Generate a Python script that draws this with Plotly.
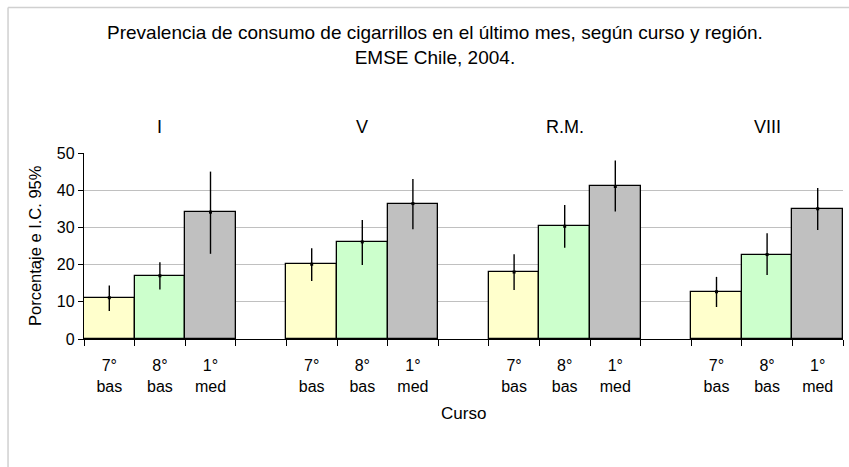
import plotly.graph_objects as go

# regions and courses
regiones = ["I", "V", "R.M.", "VIII"]
cursos = ["7°<br>bas", "8°<br>bas", "1°<br>med"]
colores = ["#FFFFCC", "#CCFFCC", "#C0C0C0"]

# prevalence (%) per course, one value per region
prev_7b = [11.1, 20.1, 18.0, 12.7]
prev_8b = [17.0, 26.1, 30.3, 22.7]
prev_1m = [34.1, 36.4, 41.0, 35.0]

# 95% CI limits
sup_7b = [14.4, 24.4, 22.8, 16.7]
inf_7b = [7.5, 15.6, 13.2, 8.6]
sup_8b = [20.6, 32.0, 36.0, 28.4]
inf_8b = [13.3, 19.9, 24.5, 17.2]
sup_1m = [45.0, 43.0, 48.0, 40.6]
inf_1m = [22.9, 29.5, 34.3, 29.3]

valores = [prev_7b, prev_8b, prev_1m]
superiores = [sup_7b, sup_8b, sup_1m]
inferiores = [inf_7b, inf_8b, inf_1m]

FONT = "Liberation Sans, Arial, sans-serif"

fig = go.Figure()

tickvals = []
ticktext = []
for c in range(3):
    xs = [g * 4 + c for g in range(len(regiones))]
    tickvals += xs
    ticktext += [cursos[c]] * len(regiones)
    fig.add_trace(go.Bar(
        x=xs,
        y=valores[c],
        width=1,
        marker=dict(color=colores[c], line=dict(color="#000000", width=1.3)),
        error_y=dict(
            type="data",
            array=[s - v for s, v in zip(superiores[c], valores[c])],
            arrayminus=[v - i for v, i in zip(valores[c], inferiores[c])],
            width=0,
            thickness=1.4,
            color="#000000",
        ),
        showlegend=False,
    ))
    # small point marker at the estimate
    fig.add_trace(go.Scatter(
        x=xs,
        y=valores[c],
        mode="markers",
        marker=dict(symbol="square", size=3, color="#000000"),
        showlegend=False,
        hoverinfo="skip",
    ))

# region labels above each group
for g, reg in enumerate(regiones):
    fig.add_annotation(x=g * 4 + 1, y=1.14, xref="x", yref="paper",
                       xanchor="center", yanchor="middle",
                       text=reg, showarrow=False,
                       font=dict(size=18, color="#000000", family=FONT))

# title
fig.add_annotation(
    x=0.4625, y=1.58, xref="paper", yref="paper",
    xanchor="center", yanchor="middle",
    text="Prevalencia de consumo de cigarrillos en el último mes, según curso y región.<br>EMSE Chile, 2004.",
    showarrow=False, align="center",
    font=dict(size=19, color="#000000", family=FONT),
)

# axis titles
fig.add_annotation(x=-0.0646, y=0.505, xref="paper", yref="paper",
                   xanchor="center", yanchor="middle",
                   text="Porcentaje e I.C. 95%", textangle=-90, showarrow=False,
                   font=dict(size=16.5, color="#000000", family=FONT))
fig.add_annotation(x=0.5, y=-0.398, xref="paper", yref="paper",
                   xanchor="center", yanchor="middle",
                   text="Curso", showarrow=False,
                   font=dict(size=17, color="#000000", family=FONT))

# chart frame (left and top edges visible)
fig.add_shape(type="line", xref="paper", yref="paper",
              x0=-0.1001, x1=-0.1001, y0=1.782, y1=-0.8,
              line=dict(color="#D0D0D0", width=1.5))
fig.add_shape(type="line", xref="paper", yref="paper",
              x0=-0.1001, x1=1.05, y0=1.782, y1=1.782,
              line=dict(color="#D0D0D0", width=1.5))

fig.update_layout(
    width=849,
    height=467,
    margin=dict(l=84, r=6, t=153, b=128),
    paper_bgcolor="#FFFFFF",
    plot_bgcolor="#FFFFFF",
    bargap=0,
    barmode="overlay",
    font=dict(family=FONT, color="#000000"),
    xaxis=dict(
        range=[-0.5, 14.5],
        tickvals=tickvals,
        ticktext=ticktext,
        ticks="outside",
        ticklen=12,
        tickcolor="rgba(0,0,0,0)",
        tickfont=dict(size=16, color="#000000"),
        showgrid=False,
        zeroline=False,
        showline=True,
        linecolor="#000000",
        linewidth=1.3,
        minor=dict(ticks="outside", tick0=-0.5, dtick=1, ticklen=6,
                   tickcolor="#000000", tickwidth=1.2, showgrid=False),
    ),
    yaxis=dict(
        range=[0, 50],
        dtick=10,
        ticks="outside",
        ticklen=5,
        tickcolor="#000000",
        tickwidth=1.2,
        tickfont=dict(size=16, color="#000000"),
        showgrid=True,
        gridcolor="#C0C0C0",
        gridwidth=1,
        zeroline=False,
        showline=True,
        linecolor="#000000",
        linewidth=1.3,
    ),
)

# drop the default page margin so the figure sits at the window corner
fig.write_html("out.html", config={"displayModeBar": False},
               post_script="document.body.style.margin='0';")
